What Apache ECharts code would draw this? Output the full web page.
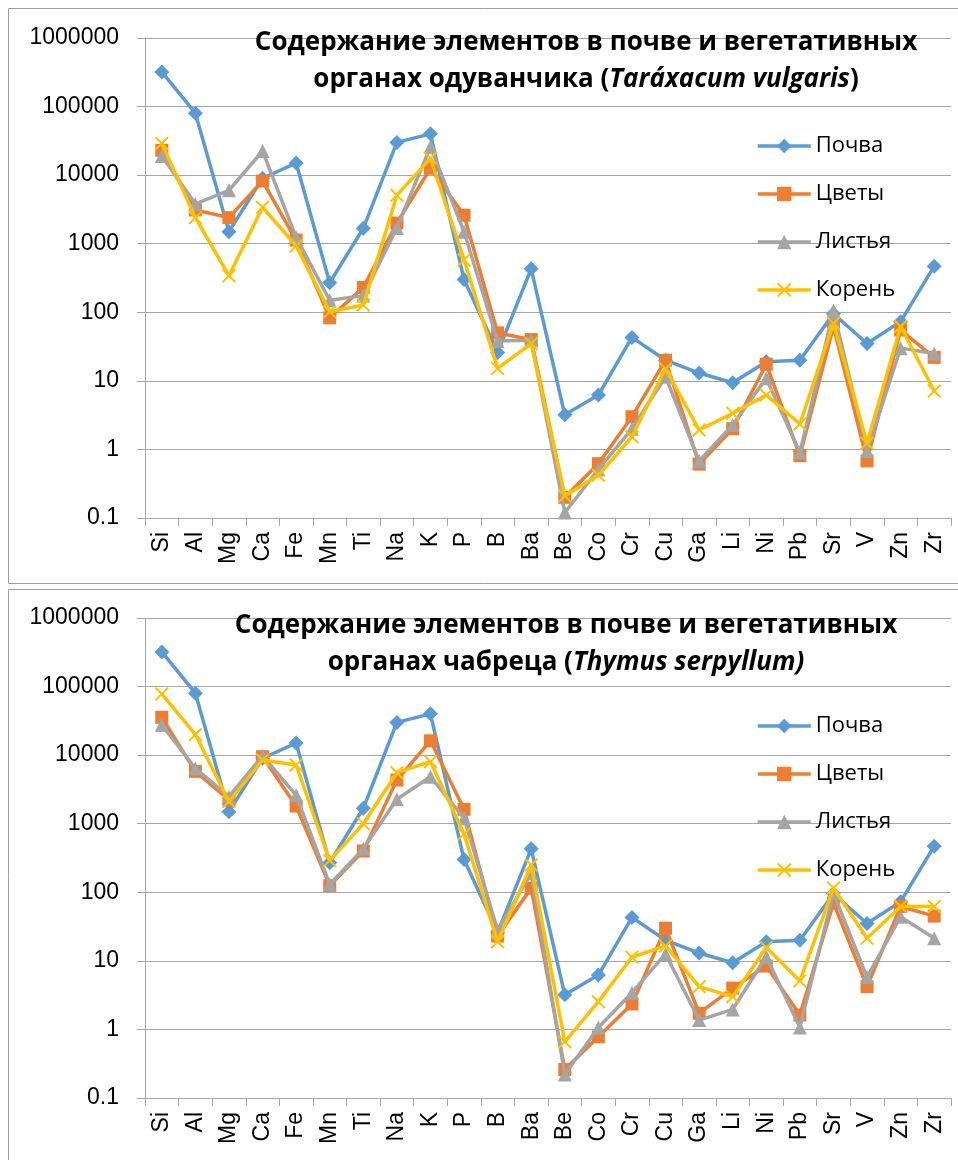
<!DOCTYPE html>
<html>
<head>
<meta charset="utf-8">
<script src="https://cdn.jsdelivr.net/npm/echarts@6/dist/echarts.min.js"></script>
<style>
  html, body { margin: 0; padding: 0; background: #fff; }
  #chart { width: 958px; height: 1160px; }
</style>
</head>
<body>
<div id="chart"></div>
<script>
// Elements on the category axis
const elements = ['Si','Al','Mg','Ca','Fe','Mn','Ti','Na','K','P','B','Ba','Be','Co','Cr','Cu','Ga','Li','Ni','Pb','Sr','V','Zn','Zr'];

// Series names
const seriesNames = ['Почва', 'Цветы', 'Листья', 'Корень'];

// Soil content (same soil for both plants)
const soil = [320000, 80000, 1500, 9000, 15000, 270, 1680, 30000, 40000, 300, 26, 430, 3.2, 6.2, 43, 20, 13, 9.4, 19, 20, 95, 35, 73, 470];

// Dandelion (Taráxacum vulgaris)
const dandelionFlowers = [23000, 3100, 2400, 8200, 1130, 83, 230, 2000, 12600, 2600, 50, 40, 0.2, 0.62, 3.0, 20, 0.61, 2.0, 17.5, 0.81, 62, 0.68, 55, 22];
const dandelionLeaves  = [19000, 3800, 6000, 22500, 1240, 150, 175, 1700, 26000, 1500, 38, 39, 0.12, 0.51, 2.0, 11.5, 0.68, 2.27, 10.9, 0.9, 106, 0.95, 30, 25];
const dandelionRoots   = [29000, 2400, 340, 3400, 930, 102, 128, 5100, 17600, 580, 15.2, 35, 0.21, 0.42, 1.53, 15, 1.92, 3.36, 6.2, 2.35, 69, 1.23, 62, 7.1];

// Thyme (Thymus serpyllum)
const thymeFlowers = [35600, 5800, 2220, 9500, 1810, 125, 400, 4340, 16200, 1620, 23, 115, 0.26, 0.78, 2.35, 30, 1.72, 4.0, 8.4, 1.62, 70, 4.2, 62, 45];
const thymeLeaves  = [27500, 6400, 2480, 9800, 2620, 130, 430, 2270, 4850, 1200, 28, 190, 0.22, 1.07, 3.43, 12.6, 1.37, 1.96, 11.5, 1.07, 97, 5.8, 44, 21.3];
const thymeRoots   = [78000, 20000, 2100, 8500, 7180, 290, 1000, 5550, 8030, 710, 19, 250, 0.66, 2.54, 11.3, 16.5, 4.2, 3.0, 15.7, 5.1, 115, 21.3, 62, 62];

const colors = ['#5B9BD5', '#ED7D31', '#A5A5A5', '#FFC000'];
// thin "x" marker
const crossPath = 'path://M0,1 L1,0 L5,4 L9,0 L10,1 L6,5 L10,9 L9,10 L5,6 L1,10 L0,9 L4,5 Z';
const symbols = ['diamond', 'rect', 'triangle', crossPath];
const symbolSizes = [[15, 15], 13, 14, 14];

const panels = [
  { top: 38, titleX: 581, titleTop: 19, title: 'органах одуванчика (', latin: 'Taráxacum vulgaris', tail: ')', data: [soil, dandelionFlowers, dandelionLeaves, dandelionRoots], legendTop: 130 },
  { top: 618, titleX: 561, titleTop: 602, title: 'органах чабреца (', latin: 'Thymus serpyllum)', tail: '', data: [soil, thymeFlowers, thymeLeaves, thymeRoots], legendTop: 710 }
];

const axisFont = 'Liberation Sans';
const textFont = 'Open Sans';
const gridColor = '#a6a6a6';

const option = {
  animation: false,
  backgroundColor: '#ffffff',
  color: colors,
  graphic: [
    { type: 'rect', shape: { x: 8.5, y: 8.5, width: 960, height: 575 }, style: { fill: 'none', stroke: '#a0a0a0', lineWidth: 1 }, z: -10 },
    { type: 'rect', shape: { x: 8.5, y: 589.5, width: 960, height: 600 }, style: { fill: 'none', stroke: '#a0a0a0', lineWidth: 1 }, z: -10 }
  ],
  title: panels.map(p => ({
    left: p.titleX,
    top: p.titleTop,
    textAlign: 'center',
    text: '{b|Содержание элементов в почве и вегетативных}\n{b|' + p.title + '}{i|' + p.latin + '}{b|' + p.tail + '}',
    textStyle: {
      rich: {
        b: { fontFamily: textFont, fontWeight: 'bold', fontSize: 26, color: '#000', lineHeight: 37 },
        i: { fontFamily: textFont, fontWeight: 'bold', fontStyle: 'italic', fontSize: 26, color: '#000', lineHeight: 37 }
      }
    }
  })),
  legend: panels.map(p => ({
    orient: 'vertical',
    left: 751,
    top: p.legendTop,
    itemWidth: 53,
    itemHeight: 18,
    itemGap: 26,
    data: seriesNames,
    lineStyle: { width: 3.5 },
    textStyle: { fontFamily: textFont, fontSize: 22, color: '#000' }
  })),
  grid: panels.map(p => ({ left: 145, top: p.top, width: 806, height: 480 })),
  xAxis: panels.map((p, i) => ({
    type: 'category',
    gridIndex: i,
    data: elements,
    boundaryGap: true,
    axisLine: { lineStyle: { color: gridColor, width: 1 } },
    axisTick: { show: true, length: 8, lineStyle: { color: gridColor } },
    axisLabel: { rotate: 90, interval: 0, margin: 14, fontFamily: axisFont, fontSize: 23, color: '#000' }
  })),
  yAxis: panels.map((p, i) => ({
    type: 'log',
    logBase: 10,
    gridIndex: i,
    min: 0.1,
    max: 1000000,
    axisLine: { show: true, lineStyle: { color: gridColor, width: 1 } },
    axisTick: { show: true, length: 8, lineStyle: { color: gridColor } },
    splitLine: { show: true, lineStyle: { color: gridColor, width: 1 } },
    minorTick: { show: false },
    axisLabel: {
      margin: 26,
      fontFamily: axisFont,
      fontSize: 23,
      color: '#000',
      formatter: v => String(+Number(v).toPrecision(6))
    }
  })),
  series: []
};

panels.forEach((p, i) => {
  p.data.forEach((values, k) => {
    option.series.push({
      name: seriesNames[k],
      type: 'line',
      xAxisIndex: i,
      yAxisIndex: i,
      data: values,
      symbol: symbols[k],
      symbolSize: symbolSizes[k],
      showAllSymbol: true,
      lineStyle: { width: 3.5, color: colors[k] },
      itemStyle: { color: colors[k], borderWidth: 0 },
      z: 2 + k
    });
  });
});

const chart = echarts.init(document.getElementById('chart'));
chart.setOption(option);
</script>
</body>
</html>
